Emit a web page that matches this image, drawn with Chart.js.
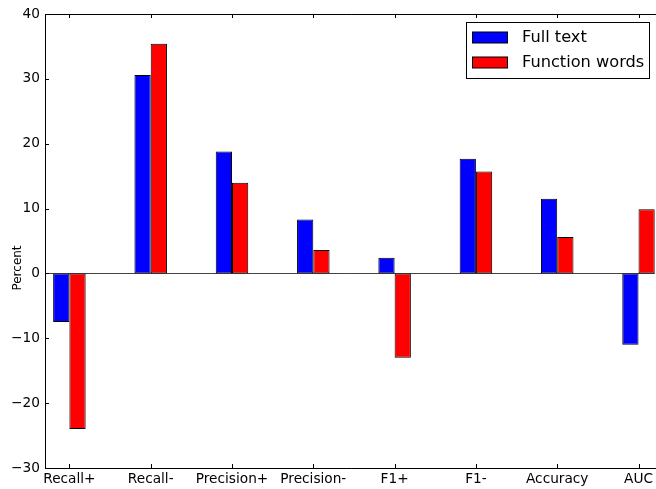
<!DOCTYPE html>
<html>
<head>
<meta charset="utf-8">
<script src="https://cdn.jsdelivr.net/npm/chart.js@4"></script>
<style>
html,body{margin:0;padding:0;background:#fff;}
#wrap{width:656px;height:489px;position:relative;}
</style>
</head>
<body>
<div id="wrap"><canvas id="c" width="656" height="489"></canvas></div>
<script>
const categories = ["Recall+", "Recall-", "Precision+", "Precision-", "F1+", "F1-", "Accuracy", "AUC"];
const fullText = [-7.5, 30.6, 18.8, 8.3, 2.4, 17.7, 11.5, -11.0];
const functionWords = [-24.0, 35.4, 14.0, 3.6, -13.0, 15.7, 5.6, 9.9];
const yTicks = [-30, -20, -10, 0, 10, 20, 30, 40];
const seriesNames = ["Full text", "Function words"];
const seriesColors = ["#0000ff", "#ff0000"];
const yTitle = "Percent";

const FONT = "'DejaVu Sans', sans-serif";

const mplPlugin = {
  id: 'mpl',
  beforeDatasetsDraw(chart) {
    const {ctx, chartArea: a, scales: {y}} = chart;
    const zy = Math.round(y.getPixelForValue(0)) + 0.5;
    ctx.save();
    ctx.strokeStyle = '#444';
    ctx.lineWidth = 1;
    ctx.beginPath();
    ctx.moveTo(a.left, zy);
    ctx.lineTo(a.right, zy);
    ctx.stroke();
    ctx.restore();
  },
  afterDatasetsDraw(chart) {
    const {ctx, chartArea: a, scales: {x, y}} = chart;
    ctx.save();
    ctx.strokeStyle = '#000';
    ctx.lineWidth = 1;
    // spines
    ctx.beginPath();
    ctx.moveTo(a.left + 0.5, a.top + 0.5);
    ctx.lineTo(a.right + 2, a.top + 0.5);
    ctx.moveTo(a.left + 0.5, a.top);
    ctx.lineTo(a.left + 0.5, a.bottom + 0.5);
    ctx.lineTo(a.right + 2, a.bottom + 0.5);
    ctx.stroke();
    // inward ticks
    ctx.beginPath();
    categories.forEach((c, i) => {
      const px = Math.round(x.getPixelForValue(i)) + 0.5;
      ctx.moveTo(px, a.bottom);
      ctx.lineTo(px, a.bottom - 4);
      ctx.moveTo(px, a.top);
      ctx.lineTo(px, a.top + 4);
    });
    yTicks.forEach(v => {
      const py = Math.round(y.getPixelForValue(v)) + 0.5;
      ctx.moveTo(a.left, py);
      ctx.lineTo(a.left + 4, py);
    });
    ctx.stroke();
    // y title
    ctx.fillStyle = '#000';
    ctx.font = "12px " + FONT;
    ctx.textAlign = 'center';
    ctx.textBaseline = 'middle';
    ctx.translate(18, 268);
    ctx.rotate(-Math.PI / 2);
    ctx.fillText(yTitle, 0, 0);
    ctx.restore();
    // legend
    ctx.save();
    ctx.fillStyle = '#fff';
    ctx.fillRect(466, 22, 183, 56);
    ctx.strokeStyle = '#000';
    ctx.lineWidth = 1;
    ctx.strokeRect(466.5, 22.5, 183, 56);
    ctx.font = "16.2px " + FONT;
    ctx.textAlign = 'left';
    ctx.textBaseline = 'middle';
    const rows = [37.5, 62.5];
    chart.data.datasets.forEach((ds, i) => {
      const cy = rows[i];
      ctx.fillStyle = ds.backgroundColor;
      ctx.fillRect(472.5, cy - 5.5, 35, 11);
      ctx.strokeStyle = '#000';
      ctx.strokeRect(472.5, cy - 5.5, 35, 11);
      ctx.fillStyle = '#000';
      ctx.fillText(ds.label, 522, cy);
    });
    ctx.restore();
  }
};

new Chart(document.getElementById('c'), {
  type: 'bar',
  data: {
    datasets: [
      {
        label: seriesNames[0],
        data: fullText.map((v, i) => ({x: i, y: v})),
        backgroundColor: seriesColors[0],
        borderColor: '#000',
        borderWidth: 1,
        borderSkipped: false
      },
      {
        label: seriesNames[1],
        data: functionWords.map((v, i) => ({x: i, y: v})),
        backgroundColor: seriesColors[1],
        borderColor: '#000',
        borderWidth: 1,
        borderSkipped: false
      }
    ]
  },
  options: {
    responsive: false,
    animation: false,
    devicePixelRatio: 1,
    layout: {padding: {top: 14, right: 0, left: 0, bottom: 0}},
    plugins: {legend: {display: false}, tooltip: {enabled: false}},
    datasets: {bar: {categoryPercentage: 0.4, barPercentage: 1.0}},
    scales: {
      x: {
        type: 'linear',
        min: -0.3,
        max: 7.2,
        offset: false,
        grid: {display: false, drawTicks: false},
        border: {display: false},
        afterBuildTicks(scale) {
          scale.ticks = categories.map((c, i) => ({value: i}));
        },
        afterFit(scale) { scale.height = 21; },
        ticks: {
          autoSkip: false,
          maxRotation: 0,
          padding: 3,
          color: '#000',
          font: {family: FONT, size: 13.7},
          callback: (v) => categories[v] !== undefined ? categories[v] : ''
        }
      },
      y: {
        min: -30,
        max: 40,
        grid: {display: false, drawTicks: false},
        border: {display: false},
        afterBuildTicks(scale) {
          scale.ticks = yTicks.map(v => ({value: v}));
        },
        afterFit(scale) { scale.width = 45; },
        ticks: {
          padding: 5,
          color: '#000',
          font: {family: FONT, size: 13.7},
          callback: (v) => (v < 0 ? '\u2212' + Math.abs(v) : String(v))
        }
      }
    }
  },
  plugins: [mplPlugin]
});
</script>
</body>
</html>
